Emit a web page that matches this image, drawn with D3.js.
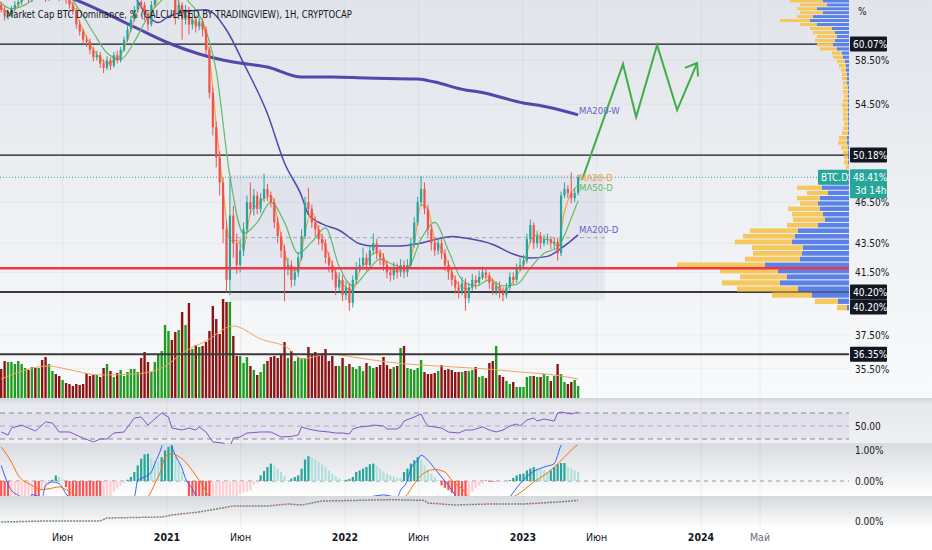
<!DOCTYPE html>
<html lang="ru">
<head>
<meta charset="UTF-8">
<title>BTC.D</title>
<script src="https://d3js.org/d3.v7.min.js"></script>
<style>
  html, body { margin: 0; padding: 0; background: #fff; }
  svg { display: block; font-family: "Liberation Sans Narrow", "DejaVu Sans Condensed", "Liberation Sans", sans-serif; }
  .ax { font-size: 10px; fill: #131722; }
</style>
</head>
<body>
<div id="chart"></div>
<script>
// ---------- DATA (weekly candles from 2020-01-20) ----------
const title = "Market Cap BTC Dominance, % (CALCULATED BY TRADINGVIEW), 1H, CRYPTOCAP";
const firstWeek = "2020-01-20";
const firstOpen = 64.3;
const closes = [64.0,63.5,62.8,63.0,63.6,64.0,64.3,64.8,65.0,64.6,
  65.2,64.9,65.3,65.0,64.7,65.2,65.5,65.0,64.8,65.1,
  64.5,64.0,63.4,62.0,61.3,60.5,60.3,59.5,58.8,59.0,
  58.2,57.8,58.5,58.0,59.0,58.5,59.5,60.5,61.5,62.5,
  63.5,64.3,64.0,63.0,62.0,64.0,65.5,66.5,67.0,68.0,
  68.0,66.0,63.0,64.0,62.5,63.5,62.0,62.5,61.8,62.3,
  61.5,59.5,55.5,52.5,50.0,48.0,44.5,41.0,45.5,43.5,
  42.0,43.0,44.5,46.5,46.0,47.0,46.0,46.8,47.5,47.0,
  46.5,45.0,44.0,43.0,41.8,42.0,41.0,41.5,42.5,44.0,
  46.5,46.0,45.0,44.5,43.8,43.5,42.5,42.0,41.5,40.5,
  41.0,40.0,40.5,39.5,41.0,41.8,42.0,42.5,42.0,43.0,
  43.5,42.8,42.5,42.0,41.5,41.3,41.8,41.5,42.0,41.5,
  42.0,43.5,45.0,46.5,47.5,46.0,44.5,43.5,43.0,43.5,
  42.8,42.0,41.5,41.0,40.5,40.2,40.8,39.8,40.5,41.0,
  40.8,41.2,41.5,41.3,40.8,40.3,40.6,40.2,40.0,40.5,
  41.2,41.0,41.8,42.0,42.3,43.8,44.8,43.5,44.0,43.5,
  43.8,43.8,43.5,43.6,42.8,47.0,47.5,47.2,46.8,47.2,
  48.41];
const highs = [64.6,64.3,63.8,63.3,63.9,64.4,64.7,65.2,65.4,65.3,
  65.5,65.6,65.7,65.6,65.3,65.5,65.9,65.8,65.3,65.4,
  65.4,64.8,64.3,63.7,62.4,61.6,60.9,60.6,59.8,59.4,
  59.3,58.6,58.9,58.8,59.3,59.4,59.8,60.8,61.9,62.9,
  63.9,64.8,64.7,64.3,63.3,64.4,66.0,67.0,67.6,68.6,
  69.0,68.4,66.3,64.8,64.3,64.0,63.8,63.2,62.9,62.8,
  62.6,61.8,59.8,56.0,53.0,50.5,48.4,45.2,48.3,46.2,
  44.2,43.8,45.0,47.0,48.0,47.5,47.3,47.2,48.7,47.9,
  47.3,46.8,45.4,44.3,43.4,42.5,42.3,41.9,42.9,44.5,
  46.9,47.6,46.3,45.4,44.8,44.2,43.8,42.9,42.3,41.8,
  41.5,41.3,40.9,40.8,41.3,42.2,42.5,43.2,42.8,43.4,
  44.2,43.8,43.1,42.8,42.3,41.9,42.2,42.1,42.4,42.3,
  42.4,43.9,45.4,46.9,48.5,48.0,46.3,44.8,43.9,43.9,
  43.8,43.1,42.3,41.8,41.3,40.9,41.2,41.1,40.8,41.4,
  41.3,41.6,41.9,41.8,41.5,41.1,40.9,40.9,40.5,40.8,
  41.5,41.5,42.1,42.5,42.7,44.2,45.2,45.0,44.4,44.3,
  44.1,44.2,44.0,43.9,43.9,47.3,48.0,47.8,48.8,47.6,
  48.6];
const lows = [63.6,63.2,62.4,62.5,62.8,63.4,63.8,64.0,64.5,64.2,
  64.3,64.5,64.6,64.6,64.3,64.4,64.9,64.7,64.4,64.5,
  64.1,63.6,63.0,61.6,60.9,60.1,59.8,59.1,58.4,58.5,
  57.8,57.3,57.6,57.6,57.8,58.2,58.3,59.3,60.3,61.2,
  62.3,63.2,63.6,62.4,61.4,61.8,63.7,65.2,66.0,66.7,
  67.0,65.0,62.0,62.5,60.5,62.0,61.0,61.5,61.2,61.4,
  60.8,59.0,55.0,51.8,49.2,47.0,43.5,40.2,40.0,42.5,
  41.4,41.5,42.6,44.2,45.6,45.5,45.6,45.7,46.5,46.6,
  46.1,44.6,43.5,42.5,39.6,41.3,40.5,40.6,41.2,42.3,
  43.8,45.6,44.6,44.0,43.4,43.0,42.1,41.5,41.0,40.0,
  40.2,39.6,39.7,39.0,39.2,40.7,41.5,41.7,41.6,41.8,
  42.7,42.4,42.0,41.6,41.1,40.9,41.0,41.1,41.2,41.1,
  41.2,41.8,43.2,44.8,46.2,45.6,44.0,43.0,42.6,42.7,
  42.4,41.6,41.0,40.6,40.1,39.8,40.0,39.0,39.5,40.3,
  40.4,40.6,41.0,41.0,40.4,40.0,40.0,39.8,39.6,39.8,
  40.3,40.7,40.8,41.6,41.8,42.1,43.5,43.1,43.2,43.1,
  43.3,43.4,43.1,43.1,42.3,42.6,46.8,46.8,46.4,46.5,
  47.0];
const volumes = [32,30,38,37,37,35,38,35,31,29,
  32,31,31,39,42,35,28,25,23,19,
  16,15,13,15,14,15,26,23,24,24,
  22,31,35,28,22,26,29,23,27,30,
  30,27,41,47,37,27,37,45,48,74,
  68,59,67,69,87,74,96,50,54,52,
  53,57,68,93,80,65,100,97,97,63,
  43,43,36,42,33,29,24,27,35,38,
  42,43,41,45,57,41,48,38,42,41,
  41,52,45,47,45,46,50,38,43,33,
  33,41,33,35,32,30,33,28,36,33,
  31,32,34,42,34,30,32,33,51,53,
  31,30,29,31,39,27,25,25,26,28,
  34,29,30,29,27,27,27,28,28,29,
  32,22,23,21,36,38,53,24,22,18,
  15,17,12,12,12,22,23,23,22,22,
  25,23,18,23,35,25,17,15,17,19,
  13];
// volume moving average (week index, value)
const vmaIdx = [1,15,20,30,40,48,55,61,69,77,85,89,97,104,114,124,134,143,153,163,170];
const vmaVal = [20,33,30,24,25,31,48,58,73,60,51,40,45,42,37,34,32,30,27,24,20];

// MA20-D sampled every 2 weeks, MA50-D every 4 weeks
const ma20Idx = d3.range(0, 171, 2);
const ma20 = [64.1,63.4,63.1,64.0,64.7,64.9,65.1,65.0,65.1,65.1,
  64.8,64.0,62.2,60.7,59.5,58.7,58.2,58.5,59.0,60.5,
  62.5,63.9,63.0,63.8,66.3,67.7,65.7,63.2,62.7,62.1,
  61.9,58.8,52.7,47.5,43.7,43.7,43.2,45.7,46.3,46.8,
  47.0,45.2,42.9,41.6,41.7,44.3,45.8,44.4,43.3,42.0,
  41.0,40.5,40.3,41.6,42.2,42.8,42.9,42.0,41.5,41.8,
  41.8,43.5,46.3,46.0,43.7,43.1,42.1,41.0,40.5,40.4,
  40.8,41.2,41.2,40.6,40.3,40.6,41.3,42.0,43.6,44.1,
  43.8,43.7,43.3,45.8,47.2,47.8];
const ma50Idx = [0,4,8,12,16,20,24,28,32,36,40,44,48,52,56,60,64,68,72,76,80,84,88,92,96,100,
  104,108,112,116,120,124,128,132,136,140,144,148,152,156,160,164,168,170];
const ma50 = [64.5,63.6,64.0,64.9,65.1,65.1,63.4,61.2,59.2,58.6,
  60.3,62.8,64.5,65.7,64.3,62.3,57.5,48.5,44.2,45.0,
  46.5,45.0,42.8,43.6,44.6,41.9,40.6,41.5,42.4,42.0,
  41.8,43.8,45.0,43.0,41.0,40.6,41.0,40.6,40.7,41.8,
  42.8,43.2,45.3,46.6];
// MA200-W and MA200-D (week index, value)
const ma200wIdx = [6,23,40,50,59,69,79,89,98,108,123,128,137,141,154,161,170];
const ma200wVal = [66.4,64.5,61.75,60.17,59.11,58.34,57.87,56.94,56.94,56.85,56.76,56.48,55.76,55.58,54.6,54.25,53.56];
const ma200dIdx = [40,43,47,50,55,61,67,72,79,84,89,91,95,100,106,110,118,123,128,133,137,145,151,156,161,165,170];
const ma200dVal = [65.0,63.3,62.2,62.8,63.3,63.5,61.45,58.24,53.65,49.54,46.97,45.59,44.89,44.43,43.47,43.31,43.31,
  43.47,43.76,43.99,43.87,43.42,42.75,42.48,42.59,43.14,44.1];

// RSI (week index, value)
const rsiIdx = [1,3,4,7,9,11,14,16,18,21,25,28,30,32,34,37,40,42,44,45,48,50,51,54,56,58,59,61,63,66,
  68,69,71,73,77,80,83,86,88,89,91,94,97,99,101,103,104,106,109,110,113,114,117,118,119,122,124,125,126,130,
  132,135,137,139,142,144,146,148,150,152,153,155,157,158,160,163,164,165,168,170];
const rsiVal = [40.8,36.2,46.9,51.5,46.9,42.3,56.2,54.6,40.8,40.8,31.5,25.4,30,30,39.2,40.8,62.3,63.8,51.5,56.2,
  70,63.8,46.9,43.8,46.9,43.8,48.5,40.8,25.4,23.8,17.7,31.5,33.1,39.2,40.8,40.8,33.1,34,36.2,48.5,
  45.4,42.3,40.8,39.2,39.2,37.7,45.4,48.5,50,51.5,50,45.4,45.4,48.5,57.7,63.8,68.5,57.7,50,46.9,
  40.8,39.2,43.8,43.8,48.5,43.8,40.8,43.8,50,53.1,50,59.2,62.3,57.7,60.8,57.7,70,71.5,68.5,71.5];

// MACD histogram, one bar per week
const macdHist = [-0.95,-1.0,-1.05,-1.1,-1.0,-0.95,-0.9,-0.85,-0.8,-0.7,
  -0.6,-0.65,-0.7,-0.3,-0.25,-0.12,0.04,0.18,0.13,0.05,
  -0.2,-0.5,-0.7,-0.9,-1.0,-1.1,-1.2,-1.25,-1.3,-1.35,
  -1.4,-1.2,-0.9,-0.6,-0.35,-0.25,-0.14,-0.06,0.04,0.13,
  0.29,0.5,0.72,0.86,0.88,0.75,0.65,0.62,0.77,0.99,
  1.1,1.15,0.77,0.56,0.29,0.02,-0.6,-0.9,-1.2,-1.5,
  -1.7,-1.8,-1.9,-1.85,-1.8,-1.6,-1.4,-1.2,-0.95,-0.75,
  -0.55,-0.42,-0.38,-0.34,-0.3,-0.12,-0.05,0.18,0.32,0.45,
  0.56,0.5,0.4,0.29,0.15,0.02,0.08,0.13,0.18,0.4,
  0.69,0.8,0.75,0.69,0.61,0.54,0.45,0.34,0.24,0.15,
  0.08,0.02,0.04,0.07,0.13,0.29,0.34,0.4,0.45,0.54,
  0.56,0.5,0.4,0.32,0.24,0.18,0.15,0.11,0.09,0.29,
  0.4,0.56,0.67,0.77,0.69,0.5,0.37,0.24,0.13,0.04,
  -0.14,-0.22,-0.3,-0.38,-0.48,-0.6,-0.7,-0.75,-0.6,-0.35,
  -0.22,-0.14,-0.08,0.02,-0.02,-0.03,-0.03,-0.03,-0.02,-0.01,
  0.03,0.1,0.18,0.22,0.24,0.34,0.4,0.45,0.4,0.38,
  0.34,0.29,0.34,0.45,0.54,0.58,0.58,0.45,0.4,0.34,
  0.29];
const macdIdx = [1,4,6,9,10,13,14,16,18,20,21,25,30,36,40,41,43,45,46,48,49,51,52,54,55,57,58,60,64,69,
  77,84,95,105,112,113,117,118,120,121,123,124,126,128,130,132,134,137,144,148,150,153,156,160,163,164,165,168,170];
const macdVal = [0.5,-0.3,-0.46,-0.6,-0.44,-0.52,-0.14,-0.03,-0.09,-0.41,-0.55,-1.0,-1.2,-0.9,-0.52,0.02,0.13,0.29,0.56,1.1,
  1.5,1.1,0.83,0.4,0.08,-0.25,-0.46,-0.8,-1.5,-1.5,-1.0,-0.8,-0.7,-0.6,-0.46,-0.45,-0.52,-0.3,0.02,0.4,
  0.67,0.83,0.67,0.4,0.13,-0.14,-0.46,-0.8,-1.0,-0.8,-0.52,-0.09,0.24,0.45,0.56,0.83,1.15,1.5,1.7];
const sigIdx = [1,4,6,10,13,15,18,20,23,30,40,44,46,48,49,51,52,55,58,60,62,69,79,86,105,119,122,124,126,128,
  131,133,136,138,144,151,154,157,160,163,166,169,170];
const sigVal = [1.1,0.61,0.18,-0.14,-0.28,-0.25,-0.19,-0.28,-0.49,-0.9,-0.8,-0.52,-0.09,0.4,0.77,0.88,0.85,0.61,0.18,-0.14,
  -0.52,-1.0,-1.0,-0.85,-0.7,-0.52,-0.09,0.18,0.32,0.37,0.29,0.02,-0.25,-0.52,-0.8,-0.52,-0.3,-0.03,0.18,0.45,
  0.77,1.1,1.18];
// bottom pane dotted indicator
const lowIdx = [1,14,30,32,48,51,59,69,79,85,89,95,105,115,125,126,134,144,154,164,170];
const lowVal = [-0.05,0,0,0.15,0.2,0.3,0.45,0.75,0.75,0.85,0.8,1.0,1.03,1.07,1.03,0.9,0.8,0.85,0.85,0.95,1.03];

// volume profile rows, 0.4% each starting at 39.0%
const profStart = 39.0, profStep = 0.4;
const profUp = [2,11,37,51,69,62,71,84,49,47,46,57,54,51,31,24,26,29,31,29,21,27,15,3,1,0,1,1,1,1,2,2,
  1,1,1,1,1,1,1,1,1,1,1,2,2,2,3,3,4,6,7,12,16,14,12,14,17,32,39,36,26,32,22,26];
const profDown = [10,23,40,61,58,47,58,88,55,49,51,57,52,48,31,32,31,32,18,23,21,25,15,7,3,3,4,4,5,7,9,8,
  6,5,4,5,5,5,6,5,4,5,5,4,5,5,5,7,8,10,10,17,16,20,20,22,22,17,30,16,23,20,27,33];

// drawings
const boxFrom = "2021-05-10", boxTo = "2023-06-18", boxTop = 48.6, boxBottom = 39.65, boxMid = 43.9;
const fcDates = ["2023-05-02","2023-07-25","2023-08-21","2023-10-03","2023-11-13","2023-12-24"];
const fcVals = [48.2,58.15,53.37,59.97,53.98,58.25];
const arrowDates = ["2023-11-29","2023-12-24","2023-12-26"];
const arrowVals = [57.8,58.25,57.0];
const levels = [60.07, 50.18, 40.20, 36.35];
const redLevel = 41.78;
const lastPrice = 48.41;

// axes
const priceTicks = [58.5, 54.5, 46.5, 43.5, 41.5, 37.5, 35.5];
const timeTicks = ["2020-06-01","2021-01-01","2021-06-01","2022-01-01","2022-06-01","2023-01-01","2023-06-01","2024-01-01","2024-05-01"];
const timeLabels = ["Июн","2021","Июн","2022","Июн","2023","Июн","2024","Май"];

// ---------- SETUP ----------
const W = 932, H = 550, plotR = 849;
const svg = d3.select("#chart").append("svg").attr("width", W).attr("height", H);
const defs = svg.append("defs");

function grad(id, c0, c1) {
  const g = defs.append("linearGradient").attr("id", id).attr("x1", 0).attr("y1", 0).attr("x2", 0).attr("y2", 1);
  g.append("stop").attr("offset", 0).attr("stop-color", c0);
  g.append("stop").attr("offset", 1).attr("stop-color", c1);
}
grad("gMain", "#e1e4ea", "#f9fafb");
grad("gSep", "#d2d5db", "#eceef2");
grad("gRsi", "#e6e8ed", "#eff0f3");
grad("gMacd", "#d8dbe1", "#ffffff");
grad("gLow", "#d5d8de", "#ffffff");

function clip(id, y0, y1) {
  defs.append("clipPath").attr("id", id).append("rect").attr("x", 0).attr("y", y0).attr("width", plotR).attr("height", y1 - y0);
}
clip("cMain", 0, 398);
clip("cRsi", 404, 444);
clip("cMacd", 445, 496);
clip("cLow", 497, 528);

const weeks = d3.utcMonday.range(new Date(firstWeek), d3.utcMonday.offset(new Date(firstWeek), closes.length));
const opens = closes.map((c, i) => i ? closes[i - 1] : firstOpen);

const x = d3.scaleUtc().domain([new Date("2021-01-01"), new Date("2024-01-01")]).range([167, 701]);
const xi = i => x(weeks[i]);
const yP = d3.scaleLog().domain([33.86, 64.51]).range([398, 0]);
const yV = d3.scaleLinear().domain([0, 100]).range([399, 299]);
const yR = d3.scaleLinear().domain([30, 70]).range([439, 413]);
const yM = d3.scaleLinear().domain([0, 1]).range([481, 450]);
const yL = d3.scaleLinear().domain([0, 1.2]).range([521, 497]);
const profW = d3.scaleLinear().domain([0, 172]).range([0, 172]);

// ---------- BACKGROUNDS ----------
svg.append("rect").attr("width", W).attr("height", 400).attr("fill", "url(#gMain)");
svg.append("rect").attr("y", 398).attr("width", W).attr("height", 8).attr("fill", "url(#gSep)");
svg.append("rect").attr("y", 406).attr("width", W).attr("height", 37).attr("fill", "url(#gRsi)");
svg.append("rect").attr("y", 443).attr("width", W).attr("height", 53).attr("fill", "url(#gMacd)");
svg.append("rect").attr("y", 496).attr("width", W).attr("height", 32).attr("fill", "url(#gLow)");
svg.append("rect").attr("y", 528).attr("width", W).attr("height", 22).attr("fill", "#ffffff");

// grid
svg.append("g").selectAll("line").data(timeTicks).join("line")
  .attr("x1", d => x(new Date(d))).attr("x2", d => x(new Date(d)))
  .attr("y1", 0).attr("y2", 528).attr("stroke", "rgba(42,46,57,0.06)");
svg.append("g").selectAll("line").data(priceTicks).join("line")
  .attr("x1", 0).attr("x2", plotR).attr("y1", d => yP(d)).attr("y2", d => yP(d))
  .attr("stroke", "rgba(42,46,57,0.05)");

// ---------- MAIN PANE ----------
const main = svg.append("g").attr("clip-path", "url(#cMain)");

// range box
main.append("rect")
  .attr("x", x(new Date(boxFrom))).attr("width", x(new Date(boxTo)) - x(new Date(boxFrom)))
  .attr("y", yP(boxTop)).attr("height", yP(boxBottom) - yP(boxTop))
  .attr("fill", "rgba(120,123,190,0.10)");
main.append("line")
  .attr("x1", x(new Date(boxFrom))).attr("x2", x(new Date(boxTo)))
  .attr("y1", yP(boxMid)).attr("y2", yP(boxMid))
  .attr("stroke", "#a3a6b4").attr("stroke-dasharray", "4 3");

// volume
main.append("g").selectAll("rect").data(volumes).join("rect")
  .attr("x", (d, i) => xi(i) - 1.2).attr("width", 2.4)
  .attr("y", d => yV(d)).attr("height", d => yV(0) - yV(d))
  .attr("fill", (d, i) => closes[i] >= opens[i] ? "#1f9d1f" : "#8c1414");
main.append("path")
  .datum(vmaIdx.map((d, k) => [d, vmaVal[k]]))
  .attr("fill", "none").attr("stroke", "#f5a25d").attr("stroke-width", 1)
  .attr("d", d3.line().x(d => xi(d[0])).y(d => yV(d[1])).curve(d3.curveMonotoneX));

// black levels
main.append("g").selectAll("line").data(levels).join("line")
  .attr("x1", 0).attr("x2", plotR).attr("y1", d => yP(d)).attr("y2", d => yP(d))
  .attr("stroke", (d, i) => i > 1 ? "#3a3a3a" : "#131722")
  .attr("stroke-width", (d, i) => i > 1 ? 2 : 1.3);

// current price dotted line
main.append("line").attr("x1", 0).attr("x2", plotR)
  .attr("y1", yP(lastPrice)).attr("y2", yP(lastPrice))
  .attr("stroke", "#26a69a").attr("stroke-dasharray", "1 2");

// moving averages
const lineP = d3.line().x(d => xi(d[0])).y(d => yP(d[1])).curve(d3.curveMonotoneX);
main.append("path").datum(ma200wIdx.map((d, k) => [d, ma200wVal[k]]))
  .attr("fill", "none").attr("stroke", "#5446aa").attr("stroke-width", 3).attr("d", lineP);
main.append("path").datum(ma200dIdx.map((d, k) => [d, ma200dVal[k]]))
  .attr("fill", "none").attr("stroke", "#5446aa").attr("stroke-width", 1.5).attr("d", lineP);
main.append("path").datum(ma50Idx.map((d, k) => [d, ma50[k]]))
  .attr("fill", "none").attr("stroke", "#66bb6a").attr("stroke-width", 1.2).attr("d", lineP);
main.append("path").datum(ma20Idx.map((d, k) => [d, ma20[k]]))
  .attr("fill", "none").attr("stroke", "#f7a13a").attr("stroke-width", 1.2).attr("d", lineP);

// candles
const candle = main.append("g").selectAll("g").data(closes).join("g")
  .attr("stroke", (d, i) => d >= opens[i] ? "#26a69a" : "#ef5350")
  .attr("fill", (d, i) => d >= opens[i] ? "#26a69a" : "#ef5350");
candle.append("line")
  .attr("x1", (d, i) => xi(i)).attr("x2", (d, i) => xi(i))
  .attr("y1", (d, i) => yP(highs[i])).attr("y2", (d, i) => yP(lows[i]));
candle.append("rect").attr("stroke", "none")
  .attr("x", (d, i) => xi(i) - 1.1).attr("width", 2.2)
  .attr("y", (d, i) => yP(Math.max(d, opens[i])))
  .attr("height", (d, i) => Math.max(1, Math.abs(yP(d) - yP(opens[i]))));

// volume profile (right side)
const prof = svg.append("g");
profUp.forEach((u, k) => {
  const lo = profStart + k * profStep, hi = lo + profStep;
  const y0 = yP(hi) + 0.5, h = Math.max(1, yP(lo) - yP(hi) - 1);
  prof.append("rect").attr("x", plotR - profW(u + profDown[k])).attr("width", profW(profDown[k]))
    .attr("y", y0).attr("height", h).attr("fill", "#f6c75c");
  prof.append("rect").attr("x", plotR - profW(u)).attr("width", profW(u))
    .attr("y", y0).attr("height", h).attr("fill", "#5b82e6");
});

// red support line on top
svg.append("line").attr("x1", 0).attr("x2", plotR).attr("y1", yP(redLevel)).attr("y2", yP(redLevel))
  .attr("stroke", "#f23645").attr("stroke-width", 2.5);

// forecast path
const lineD = d3.line().x(d => x(new Date(d[0]))).y(d => yP(d[1]));
svg.append("path").datum(fcDates.map((d, k) => [d, fcVals[k]]))
  .attr("fill", "none").attr("stroke", "#3fae49").attr("stroke-width", 2).attr("d", lineD);
svg.append("path").datum(arrowDates.map((d, k) => [d, arrowVals[k]]))
  .attr("fill", "none").attr("stroke", "#3fae49").attr("stroke-width", 2).attr("d", lineD);

// MA labels
const last = closes.length - 1;
const lab = (t, v, c, dy) => svg.append("text").attr("x", xi(last) + 1).attr("y", yP(v) + dy)
  .attr("font-size", 9.5).attr("fill", c).text(t);
lab("MA200-W", ma200wVal[ma200wVal.length - 1], "#6a5fbf", -1);
lab("MA20-D", lastPrice, "#f7a13a", 4);
lab("MA50-D", lastPrice, "#66bb6a", 14);
lab("MA200-D", ma200dVal[ma200dVal.length - 1], "#6a5fbf", -2);

// title
svg.append("text").attr("x", 6).attr("y", 18).attr("font-size", 10.5).attr("fill", "#131722")
  .attr("textLength", 346).attr("lengthAdjust", "spacingAndGlyphs").text(title);

// ---------- RSI ----------
const rsi = svg.append("g").attr("clip-path", "url(#cRsi)");
rsi.append("rect").attr("x", 0).attr("width", plotR).attr("y", yR(70)).attr("height", yR(30) - yR(70))
  .attr("fill", "rgba(126,87,194,0.07)");
rsi.append("g").selectAll("line").data([70, 50, 30]).join("line")
  .attr("x1", 0).attr("x2", plotR).attr("y1", d => yR(d)).attr("y2", d => yR(d))
  .attr("stroke", "#787b86").attr("stroke-opacity", d => d === 50 ? 0.5 : 0.85).attr("stroke-dasharray", "5 4");
rsi.append("path").datum(rsiIdx.map((d, k) => [d, rsiVal[k]]))
  .attr("fill", "none").attr("stroke", "#7e57c2").attr("stroke-width", 1)
  .attr("d", d3.line().x(d => xi(d[0])).y(d => yR(d[1])));

// ---------- MACD ----------
const macd = svg.append("g").attr("clip-path", "url(#cMacd)");
macd.append("line").attr("x1", 0).attr("x2", plotR).attr("y1", yM(0)).attr("y2", yM(0))
  .attr("stroke", "#9598a1").attr("stroke-dasharray", "4 4");
macd.append("g").selectAll("rect").data(macdHist).join("rect")
  .attr("x", (d, i) => xi(i) - 1.1).attr("width", 2.2)
  .attr("y", d => yM(Math.max(0, d))).attr("height", d => Math.abs(yM(d) - yM(0)))
  .attr("fill", (d, i) => {
    const up = i === 0 || d >= macdHist[i - 1];
    if (d >= 0) return up ? "#26a69a" : "#b2dfdb";
    return up ? "#ffcdd2" : "#ff5252";
  });
const lineM = d3.line().x(d => xi(d[0])).y(d => yM(d[1])).curve(d3.curveMonotoneX);
macd.append("path").datum(macdIdx.map((d, k) => [d, macdVal[k]]))
  .attr("fill", "none").attr("stroke", "#2962ff").attr("stroke-width", 1).attr("d", lineM);
macd.append("path").datum(sigIdx.map((d, k) => [d, sigVal[k]]))
  .attr("fill", "none").attr("stroke", "#ff6d00").attr("stroke-width", 1).attr("d", lineM);

// ---------- LOW PANE ----------
const low = svg.append("g").attr("clip-path", "url(#cLow)");
const lineL = d3.line().x(d => xi(d[0])).y(d => yL(d[1]));
const lowData = lowIdx.map((d, k) => [d, lowVal[k]]);
low.append("path").datum(lowData).attr("fill", "none").attr("stroke", "#26a69a")
  .attr("stroke-width", 1.5).attr("stroke-dasharray", "2 4").attr("d", lineL);
low.append("path").datum(lowData).attr("fill", "none").attr("stroke", "#ef5350")
  .attr("stroke-width", 1.5).attr("stroke-dasharray", "2 4").attr("stroke-dashoffset", 3).attr("d", lineL);

// ---------- PRICE AXIS ----------
const axis = svg.append("g");
axis.append("text").attr("class", "ax").attr("x", 858).attr("y", 15).text("%");
axis.selectAll("text.t").data(priceTicks).join("text").attr("class", "ax t")
  .attr("x", 855).attr("y", d => yP(d) + 4).text(d => d.toFixed(2) + "%");

const boxLabel = (v, dy) => {
  const g = svg.append("g").attr("transform", `translate(850,${yP(v) + dy})`);
  g.append("rect").attr("y", -7.5).attr("width", 37).attr("height", 15).attr("fill", "#131722").attr("rx", 1);
  g.append("text").attr("x", 3).attr("y", 3.8).attr("font-size", 10).attr("fill", "#fff").text(v.toFixed(2) + "%");
};
levels.forEach(v => boxLabel(v, 0));
boxLabel(levels[2], 15);

// last price label
const lp = svg.append("g").attr("transform", `translate(850,${yP(lastPrice)})`);
lp.append("rect").attr("y", -8).attr("width", 37).attr("height", 29).attr("fill", "#26a69a").attr("rx", 1);
lp.append("text").attr("x", 3).attr("y", 4).attr("font-size", 10).attr("fill", "#fff").text(lastPrice.toFixed(2) + "%");
lp.append("text").attr("x", 5).attr("y", 17).attr("font-size", 10).attr("fill", "#fff").text("3d 14h");
const sym = svg.append("g").attr("transform", `translate(818,${yP(lastPrice)})`);
sym.append("rect").attr("y", -7.5).attr("width", 30).attr("height", 15).attr("fill", "#26a69a").attr("rx", 1);
sym.append("text").attr("x", 3).attr("y", 4).attr("font-size", 10).attr("fill", "#fff").text("BTC.D");

// indicator axis labels
axis.append("text").attr("class", "ax").attr("x", 855).attr("y", yR(50) + 4).text("50.00");
axis.append("text").attr("class", "ax").attr("x", 855).attr("y", yM(1) + 4).text("1.00%");
axis.append("text").attr("class", "ax").attr("x", 855).attr("y", yM(0) + 4).text("0.00%");
axis.append("text").attr("class", "ax").attr("x", 855).attr("y", yL(0) + 4).text("0.00%");

// ---------- TIME AXIS ----------
svg.append("g").selectAll("text").data(timeTicks).join("text")
  .attr("x", d => x(new Date(d))).attr("y", 541).attr("text-anchor", "middle")
  .attr("font-size", 10.5)
  .attr("fill", (d, i) => i === timeTicks.length - 1 ? "#6a6d78" : "#131722")
  .attr("font-weight", (d, i) => /^\d/.test(timeLabels[i]) ? 600 : 400)
  .text((d, i) => timeLabels[i]);
</script>
</body>
</html>
